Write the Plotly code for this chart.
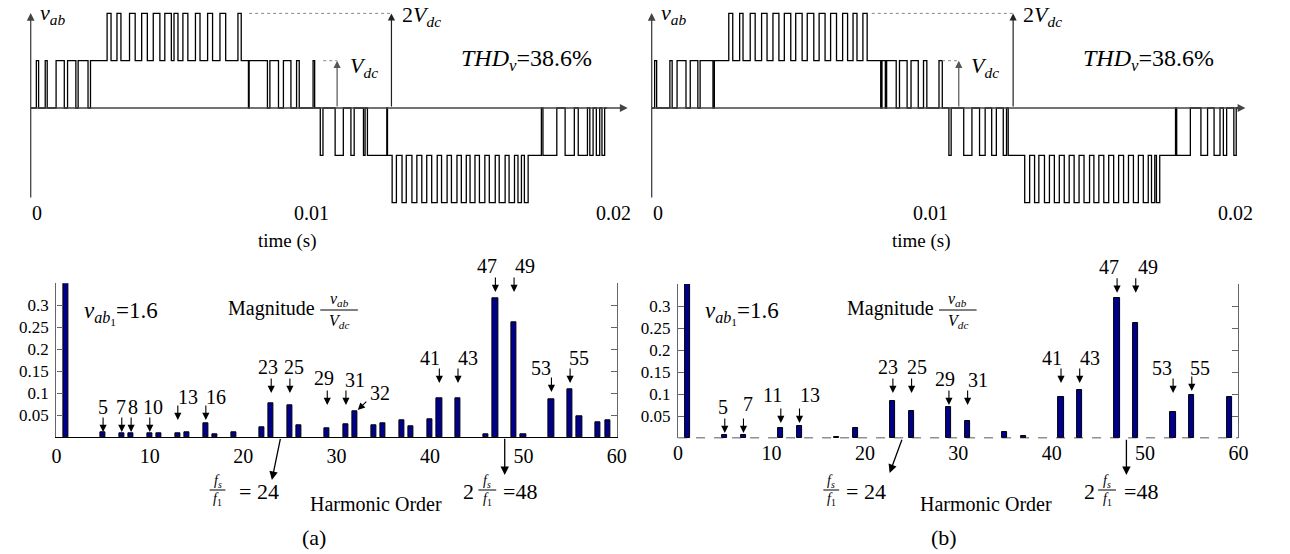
import plotly.graph_objects as go

W, H = 1290, 554
FONT = "Liberation Serif, Times New Roman, serif"

# ---------------- data ----------------
# line-to-line voltage v_ab: (switching instant in ms, level after that instant in units of V_dc)
wave_a = [
    (0, 0), (0.197, 1), (0.276, 0), (0.507, 1), (0.576, 0), (0.886, 1), (1.172, 0), (1.286, 1),
    (1.576, 0), (1.655, 1), (2.0, 0), (2.086, 1),
    (2.666, 2), (2.803, 1), (3.010, 2), (3.148, 1), (3.448, 2), (3.645, 1), (3.872, 2), (4.069, 1),
    (4.276, 2), (4.507, 1), (4.679, 2), (4.907, 1), (5.0, 2), (5.138, 1), (5.310, 2), (5.483, 1),
    (5.748, 2), (5.907, 1), (6.172, 2), (6.345, 1), (6.603, 2), (6.803, 1), (7.231, 2), (7.345, 1),
    (7.597, 0), (7.621, 1), (8.259, 0), (8.345, 1), (8.645, 0), (8.817, 1), (9.079, 0), (9.276, 1),
    (9.369, 0), (9.852, 1), (9.907, 0),
    (10.103, -1), (10.197, 0), (10.621, -1), (10.907, 0), (11.172, -1), (11.286, 0), (11.610, -1),
    (11.666, 0), (11.748, -1), (12.424, 0), (12.448, -1),
    (12.610, -2), (12.759, -1), (12.955, -2), (13.103, -1), (13.300, -2), (13.472, -1), (13.645, -2),
    (13.817, -1), (13.990, -2), (14.183, -1), (14.334, -2), (14.528, -1), (14.679, -2), (14.872, -1),
    (15.024, -2), (15.197, -1), (15.328, -2), (15.500, -1), (15.655, -2), (15.845, -1), (16.0, -2),
    (16.207, -1), (16.345, -2), (16.552, -1), (16.690, -2), (16.879, -1), (17.0, -2), (17.121, -1),
    (17.224, -2), (17.355, -1),
    (17.817, 0), (17.872, -1), (18.355, 0), (18.645, -1), (18.966, 0), (19.103, -1), (19.424, 0),
    (19.507, -1), (19.621, 0), (19.734, -1), (19.852, 0), (19.931, -1), (20.024, 0), (20.1, 0),
]
wave_b = [
    (0, 0), (0.101, 1), (0.169, 0), (0.621, 1), (0.699, 0), (0.867, 1), (1.171, 0), (1.316, 1),
    (1.576, 0), (1.653, 1), (2.092, 0), (2.139, 1),
    (2.632, 2), (2.767, 1), (3.003, 2), (3.118, 1), (3.364, 2), (3.533, 1), (3.752, 2), (3.938, 1),
    (4.140, 2), (4.343, 1), (4.528, 2), (4.748, 1), (4.917, 2), (5.136, 1), (5.311, 2), (5.534, 1),
    (5.716, 2), (5.919, 1), (6.108, 2), (6.310, 1), (6.519, 2), (6.688, 1), (6.874, 2), (7.009, 1),
    (7.211, 2), (7.356, 1),
    (7.819, 0), (7.862, 1), (7.977, 0), (8.021, 1), (8.348, 0), (8.460, 1), (8.720, 0), (8.854, 1),
    (9.101, 0), (9.280, 1), (9.394, 0), (9.809, 1), (9.921, 0),
    (10.147, -1), (10.224, 0), (10.653, -1), (10.933, 0), (11.193, -1), (11.385, 0), (11.608, -1),
    (11.767, 0), (12.003, -1), (12.114, 0), (12.172, -1),
    (12.735, -2), (12.904, -1), (13.072, -2), (13.218, -1), (13.410, -2), (13.579, -1), (13.748, -2),
    (13.916, -1), (14.085, -2), (14.254, -1), (14.422, -2), (14.591, -1), (14.760, -2), (14.949, -1),
    (15.097, -2), (15.266, -1), (15.435, -2), (15.603, -1), (15.772, -2), (15.941, -1), (16.110, -2),
    (16.278, -1), (16.447, -2), (16.616, -1), (16.784, -2), (16.953, -1), (17.064, -2), (17.176, -1),
    (17.233, -2), (17.345, -1),
    (17.884, 0), (17.924, -1), (18.390, 0), (18.751, -1), (18.978, 0), (19.200, -1), (19.403, 0),
    (19.517, -1), (19.629, 0), (19.875, -1), (19.956, 0), (20.05, 0),
]
time_ticks = [0, 10, 20]                      # ms
time_tick_text = ["0", "0.01", "0.02"]

harm_a = [1, 5, 7, 8, 10, 11, 13, 14, 16, 17, 19, 22, 23, 25, 26, 29, 31, 32, 34, 35, 37, 38,
          40, 41, 43, 46, 47, 49, 50, 53, 55, 56, 58, 59]
mag_a = [1.6, 0.012, 0.0083, 0.0098, 0.0083, 0.009, 0.0098, 0.0114, 0.0326, 0.0076, 0.012,
         0.0235, 0.0765, 0.0727, 0.028, 0.0212, 0.0288, 0.06, 0.028, 0.0318, 0.038, 0.0242,
         0.041, 0.088, 0.088, 0.0068, 0.3167, 0.2614, 0.0076, 0.087, 0.109, 0.0485, 0.034, 0.0386]
harm_b = [1, 5, 7, 11, 13, 17, 19, 23, 25, 29, 31, 35, 37, 41, 43, 47, 49, 53, 55, 59]
mag_b = [1.6, 0.0075, 0.0075, 0.0227, 0.0287, 0.002, 0.0227, 0.0848, 0.0629, 0.072, 0.0394,
         0.015, 0.005, 0.0947, 0.11, 0.318, 0.262, 0.059, 0.0984, 0.094]
harm_ticks = [0, 10, 20, 30, 40, 50, 60]
mag_ticks = [0.05, 0.1, 0.15, 0.2, 0.25, 0.3]
mag_tick_text = ["0.05", "0.1", "0.15", "0.2", "0.25", "0.3"]
labels_a = [5, 7, 8, 10, 13, 16, 23, 25, 29, 31, 32, 41, 43, 47, 49, 53, 55]
labels_b = [5, 7, 11, 13, 23, 25, 29, 31, 41, 43, 47, 49, 53, 55]

# ---------------- geometry / style ----------------
def px(x):
    return x / W

def py(y):
    return 1 - y / H

def ptext(s, x, y, size=20, **kw):
    d = dict(text=s, x=px(x), y=py(y), xref="paper", yref="paper", showarrow=False,
             xanchor="center", yanchor="middle", font=dict(family=FONT, size=size, color="black"))
    d.update(kw)
    return d

TOP_Y = [(108 - 205) / 47.3, 108 / 47.3]
NAVY = "#00008C"
FRAME = "#666666"

fig = go.Figure()
for wave, xa, ya in [(wave_a, "x", "y"), (wave_b, "x2", "y2")]:
    fig.add_trace(go.Scatter(x=[p[0] for p in wave], y=[p[1] for p in wave], mode="lines",
                             line=dict(shape="hv", color="black", width=1.3),
                             xaxis=xa, yaxis=ya, hoverinfo="skip", showlegend=False))
for hx, mg, xa, ya in [(harm_a, mag_a, "x3", "y3"), (harm_b, mag_b, "x4", "y4")]:
    fig.add_trace(go.Bar(x=hx, y=mg, width=0.55, xaxis=xa, yaxis=ya, showlegend=False,
                         marker=dict(color=NAVY, line=dict(color="black", width=1))))

def bottom_x(dom, anchor, line):
    return dict(domain=dom, range=[0, 60], anchor=anchor, showline=line, linecolor="black",
                linewidth=1.3, ticks="", tickvals=harm_ticks, ticklabelstandoff=1,
                tickfont=dict(family=FONT, size=20, color="black"), showgrid=False, zeroline=False)

def bottom_y(dom, anchor):
    return dict(domain=dom, range=[0, 0.35], anchor=anchor, showline=True, linecolor=FRAME,
                linewidth=1.3, mirror="ticks", ticks="inside", ticklen=6, tickwidth=1.2,
                tickcolor=FRAME, tickvals=mag_ticks, ticktext=mag_tick_text, ticklabelstandoff=3,
                tickfont=dict(family=FONT, size=17, color="black"), showgrid=False, zeroline=False)

def top_ticks(over, anchor):
    return dict(overlaying=over, side="top", anchor=anchor, range=[0, 60], showline=True,
                linecolor=FRAME, linewidth=1.3, ticks="inside", ticklen=5, tickwidth=1.2,
                tickcolor=FRAME, tickvals=[10, 20, 30, 40, 50], showticklabels=False,
                showgrid=False, zeroline=False)

fig.update_layout(
    width=W, height=H, margin=dict(l=0, r=0, t=0, b=0), paper_bgcolor="white",
    plot_bgcolor="rgba(0,0,0,0)", showlegend=False, bargap=0,
    xaxis=dict(domain=[px(26), px(640)], range=[0, 614 / 29], visible=False, anchor="y"),
    yaxis=dict(domain=[py(205), py(0)], range=TOP_Y, visible=False, anchor="x"),
    xaxis2=dict(domain=[px(654.3), px(1270)], range=[0, (1270 - 654.3) / 29.635], visible=False, anchor="y2"),
    yaxis2=dict(domain=[py(205), py(0)], range=TOP_Y, visible=False, anchor="x2"),
    xaxis3=bottom_x([px(52), px(619)], "y3", True),
    yaxis3=bottom_y([py(437.3), py(283.3)], "x3"),
    xaxis4=bottom_x([px(681), px(1248)], "y4", False),
    yaxis4=bottom_y([py(438.3), py(284)], "x4"),
    xaxis5=top_ticks("x3", "y3"),
    xaxis6=top_ticks("x4", "y4"),
)

shapes = []
ann = []

# ---- top panels: axes arrows, level markers, texts ----
top_cfg = [
    # xref, yref, axis end (ms), Vdc arrow (ms), 2Vdc arrow (ms), 2Vdc dotted start, Vdc dotted start, tick shifts
    ("x", "y", 20.828, 10.690, 12.586, 7.621, 10.207, [6, -6, 10]),
    ("x2", "y2", 20.270, 10.484, 12.340, 7.515, 9.911, [6, -14, -2]),
]
for xr, yr, xend, t1, t2, d2, d1, shifts in top_cfg:
    ann.append(dict(x=xend, y=0, ax=0, ay=0, axref=xr, ayref=yr, xref=xr, yref=yr, text="",
                    showarrow=True, arrowhead=2, arrowsize=1.2, arrowwidth=1.3, arrowcolor="#444"))
    ann.append(dict(x=0, y=2.008, ax=0, ay=-1.924, axref=xr, ayref=yr, xref=xr, yref=yr, text="",
                    showarrow=True, arrowhead=2, arrowsize=1.2, arrowwidth=1.3, arrowcolor="#444"))
    ann.append(dict(x=t1, y=1, ax=t1, ay=0, axref=xr, ayref=yr, xref=xr, yref=yr, text="",
                    showarrow=True, arrowhead=2, arrowsize=1.2, arrowwidth=1.2, arrowcolor="#555"))
    ann.append(dict(x=t2, y=2, ax=t2, ay=0, axref=xr, ayref=yr, xref=xr, yref=yr, text="",
                    showarrow=True, arrowhead=2, arrowsize=1.2, arrowwidth=1.2, arrowcolor="#222"))
    shapes.append(dict(type="line", xref=xr, yref=yr, x0=d2, x1=t2, y0=2, y1=2,
                       line=dict(color="#888", width=1, dash="dot")))
    shapes.append(dict(type="line", xref=xr, yref=yr, x0=d1, x1=t1, y0=1, y1=1,
                       line=dict(color="#888", width=1, dash="dot")))
    for tv, tt, sh in zip(time_ticks, time_tick_text, shifts):
        ann.append(dict(text=tt, x=tv, y=py(213), xref=xr, yref="paper", xshift=sh, showarrow=False,
                        xanchor="center", yanchor="middle", font=dict(family=FONT, size=20, color="black")))

for xv, x2v, xV, xthd, xtime in [(48, 421, 363, 528, 286), (676, 1050, 992, 1157, 927)]:
    ann.append(ptext("<i>v</i><sub><i>ab</i></sub>", xv, 14, 22))
    ann.append(ptext("2<i>V</i><sub><i>dc</i></sub>", x2v, 16, 22))
    ann.append(ptext("<i>V</i><sub><i>dc</i></sub>", xV, 67, 22))
    ann.append(ptext("<i>THD</i><sub><i>v</i></sub>=38.6%", xthd, 60, 24))
    ann.append(ptext("time (s)", xtime, 241, 19))

# ---- bottom panels ----
geo_a = {5: (0.012, 0, 25), 7: (0.012, -1, 25), 8: (0.012, 2, 25), 10: (0.012, 3.5, 25),
         13: (0.0393, 10, 23), 16: (0.0393, 10, 23), 23: (0.1007, -3.4, 26), 25: (0.1007, 4, 26),
         29: (0.0734, -3, 27), 31: (0.0734, 9, 25), 41: (0.1234, -9.5, 25), 43: (0.1234, 9.6, 25),
         47: (0.3302, -8.7, 26), 49: (0.3302, 11, 26), 53: (0.103, -10.4, 24), 55: (0.1234, 9, 25)}
geo_b = {5: (0.012, -2, 26), 7: (0.012, 4.5, 29), 11: (0.0348, -8, 28), 13: (0.0348, 10, 28),
         23: (0.103, -5, 26), 25: (0.103, 5, 26), 29: (0.0757, -4, 26), 31: (0.0757, 10, 25),
         41: (0.1257, -9.5, 25), 43: (0.1257, 10, 25), 47: (0.3302, -8, 26), 49: (0.3302, 12, 26),
         53: (0.103, -11, 25), 55: (0.1075, 8, 23)}

ARROW = dict(showarrow=True, arrowhead=2, arrowsize=1.3, arrowwidth=1.1, arrowcolor="black", text="")

for labels, geo, xr, yr in [(labels_a, geo_a, "x3", "y3"), (labels_b, geo_b, "x4", "y4")]:
    for h in labels:
        if h == 32:
            ann.append(dict(x=32.27, y=0.062, ax=10, ay=-10, xref=xr, yref=yr, **ARROW))
            ann.append(dict(text="32", x=32.27, y=0.062, xshift=22, yshift=17, xref=xr, yref=yr,
                            showarrow=False, font=dict(family=FONT, size=20, color="black")))
            continue
        yv, dx, dy = geo[h]
        ann.append(dict(x=h, y=yv, ax=0, ay=-16, xref=xr, yref=yr, **ARROW))
        ann.append(dict(text=str(h), x=h, y=yv, xshift=dx, yshift=dy, xref=xr, yref=yr,
                        showarrow=False, font=dict(family=FONT, size=20, color="black")))

# white gaps in the top frame behind 47 / 49
for a, b in [(468, 545), (1097, 1173)]:
    shapes.append(dict(type="rect", xref="paper", yref="paper", x0=px(a), x1=px(b), y0=py(289), y1=py(278),
                       fillcolor="white", line=dict(width=0), layer="above"))

# dashed baseline in (b)
shapes.append(dict(type="line", xref="x4", yref="y4", x0=0, x1=60, y0=0, y1=0, layer="above",
                   line=dict(color="#222", width=1.5, dash="dash")))

# f_s/f_1 arrows
ann.append(dict(x=23.07, y=py(480), ax=8.8, ay=-42.7, xref="x3", yref="paper", showarrow=True,
                arrowhead=2, arrowsize=1.3, arrowwidth=1.3, arrowcolor="black", text=""))
ann.append(dict(x=48, y=py(475), ax=0, ay=-37.7, xref="x3", yref="paper", showarrow=True,
                arrowhead=2, arrowsize=1.3, arrowwidth=1.3, arrowcolor="black", text=""))
ann.append(dict(x=22.65, y=py(473), ax=12.8, ay=-34.7, xref="x4", yref="paper", showarrow=True,
                arrowhead=2, arrowsize=1.3, arrowwidth=1.3, arrowcolor="black", text=""))
ann.append(dict(x=48, y=py(475), ax=0, ay=-36.7, xref="x4", yref="paper", showarrow=True,
                arrowhead=2, arrowsize=1.3, arrowwidth=1.3, arrowcolor="black", text=""))

def frac(num, den, xc, yc, half, size, off):
    ann.append(ptext(num, xc, yc - off, size))
    ann.append(ptext(den, xc, yc + off, size))
    shapes.append(dict(type="line", xref="paper", yref="paper", x0=px(xc - half), x1=px(xc + half),
                       y0=py(yc), y1=py(yc), line=dict(color="black", width=1)))

FS = "<i>f</i><sub><i>s</i></sub>"
F1 = "<i>f</i><sub>1</sub>"
for (xv1, xmag, xfr, xho, xlab, lab, xf24, xe24, x2, xf48, xe48) in [
        (117, 270, 338, 375, 313, "(a)", 215, 257, 469, 488, 521),
        (746, 896, 964, 993, 950, "(b)", 836, 871, 1097, 1115, 1149)]:
    ann.append(ptext("<i>v</i><sub><i>ab</i><sub>1</sub></sub>=1.6", xv1, 313, 23))
    ann.append(ptext("Magnitude", xmag, 308, 20))
    frac("<i>v</i><sub><i>ab</i></sub>", "<i>V</i><sub><i>dc</i></sub>", xfr, 310, 19, 16, 11)
    ann.append(ptext("Harmonic Order", xho, 504, 20))
    ann.append(ptext(lab, xlab, 537, 22))
    frac(FS, F1, xf24, 490, 8, 14, 9)
    ann.append(ptext("= 24", xe24, 491, 22))
    ann.append(ptext("2", x2, 491, 22))
    frac(FS, F1, xf48, 490, 9, 14, 9)
    ann.append(ptext("=48", xe48, 491, 22))

fig.update_layout(shapes=shapes, annotations=ann)
fig.write_html("out.html")
